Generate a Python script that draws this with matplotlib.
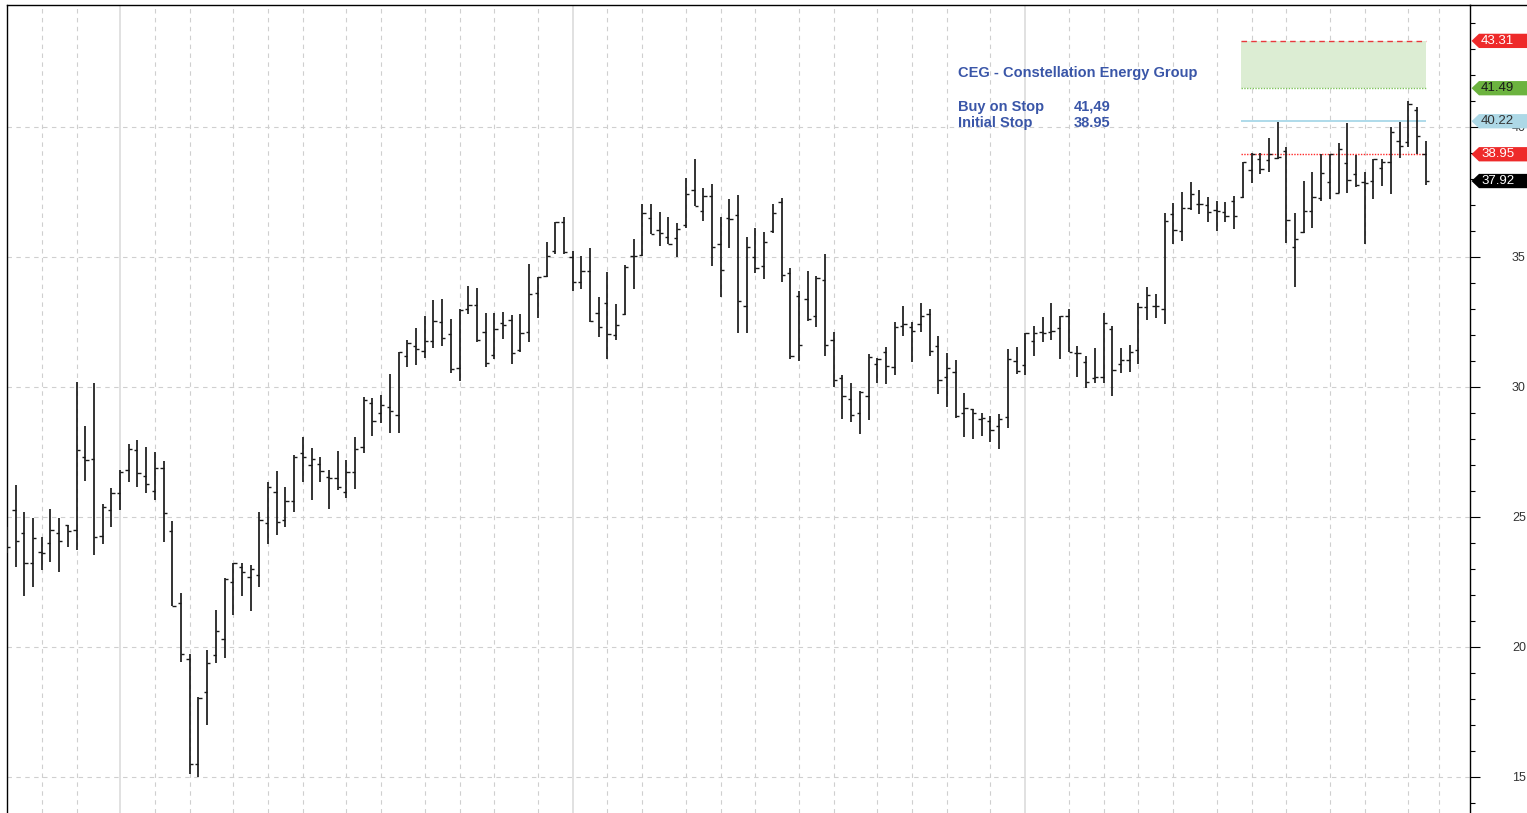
"""
Недельный OHLC-график CEG с зоной входа (buy stop / initial stop) справа.
"""
import numpy as np
import matplotlib
matplotlib.use("Agg")
import matplotlib.pyplot as plt
import matplotlib.transforms as mtransforms
from matplotlib.patches import Polygon, Rectangle
from matplotlib.lines import Line2D

plt.rcParams["font.family"] = ["Liberation Sans", "DejaVu Sans"]

# --- данные (недельные бары) ---
OPEN = [24.20, 25.27, 24.37, 23.24, 23.67, 23.99, 24.37, 24.69, 24.50, 27.32,
        27.22, 24.28, 25.27, 25.91, 26.81, 27.58, 26.58, 26.01, 26.87, 24.46,
        21.68, 19.53, 15.49, 18.28, 19.69, 20.31, 22.51, 23.09, 22.71, 22.77,
        24.76, 25.97, 24.88, 25.63, 27.45, 27.00, 27.03, 26.53, 26.49, 25.97,
        26.74, 27.71, 29.40, 29.01, 29.22, 28.92, 31.21, 31.59, 31.40, 31.77,
        32.51, 32.04, 30.72, 32.99, 33.15, 32.13, 31.23, 32.47, 32.58, 31.42,
        32.13, 33.63, 34.27, 35.21, 36.33, 34.99, 34.05, 34.46, 32.83, 33.22,
        32.00, 32.81, 35.04, 35.08, 36.49, 36.04, 35.76, 35.72, 36.23, 37.58,
        36.77, 37.36, 35.49, 36.49, 36.62, 33.12, 35.01, 34.65, 36.00, 37.10,
        34.37, 33.50, 33.38, 32.71, 34.12, 31.81, 30.33, 29.53, 29.01, 29.65,
        30.87, 31.36, 30.78, 32.35, 32.29, 32.42, 32.81, 31.59, 30.40, 30.56,
        29.01, 29.14, 28.77, 28.71, 28.50, 28.86, 31.00, 30.85, 31.77, 32.13,
        32.13, 32.26, 32.74, 31.32, 30.95, 30.33, 30.37, 32.22, 30.88, 31.04,
        31.42, 33.09, 33.12, 32.99, 36.64, 36.01, 36.87, 37.03, 37.00, 36.81,
        36.72, 37.15, 37.29, 38.35, 38.77, 38.71, 38.79, 39.08, 35.40, 35.95,
        36.77, 37.26, 37.90, 37.47, 38.60, 38.19, 37.90, 37.92, 38.44, 38.64,
        39.47, 39.44, 40.65, 38.96]
HIGH = [24.60, 26.23, 25.21, 24.95, 24.24, 25.29, 24.95, 24.69, 30.18, 28.50,
        30.14, 25.50, 26.10, 26.81, 27.81, 27.96, 27.71, 27.49, 27.15, 24.86,
        22.09, 19.73, 18.09, 19.88, 21.42, 22.64, 23.22, 23.22, 23.15, 25.21,
        26.33, 26.78, 26.17, 27.38, 28.06, 27.67, 27.32, 26.81, 27.54, 27.19,
        28.06, 29.63, 29.59, 29.69, 30.49, 31.36, 31.81, 32.26, 32.71, 33.35,
        33.38, 32.60, 32.99, 33.90, 33.82, 32.83, 32.83, 32.87, 32.77, 32.79,
        34.73, 34.22, 35.56, 36.33, 36.55, 35.24, 35.04, 35.33, 33.47, 34.44,
        33.18, 34.69, 35.69, 37.03, 37.03, 36.74, 36.55, 36.29, 38.03, 38.77,
        37.67, 37.79, 36.55, 37.23, 37.38, 35.78, 36.10, 35.97, 37.03, 37.28,
        34.56, 33.69, 34.47, 34.28, 35.12, 32.13, 30.46, 30.14, 29.86, 31.27,
        31.10, 31.53, 32.51, 33.12, 32.51, 33.22, 32.99, 31.96, 31.32, 31.04,
        29.76, 29.15, 28.99, 28.88, 28.95, 31.45, 31.55, 32.06, 32.35, 32.68,
        33.22, 32.74, 32.99, 31.59, 31.21, 31.49, 32.86, 32.35, 31.49, 31.62,
        33.22, 33.86, 33.56, 36.68, 37.06, 37.49, 37.87, 37.58, 37.32, 37.15,
        37.10, 37.36, 38.67, 38.99, 39.01, 39.59, 40.18, 39.24, 36.68, 37.92,
        38.26, 38.96, 38.96, 39.37, 40.14, 38.92, 38.26, 38.77, 38.76, 40.01,
        40.18, 41.00, 40.78, 39.47]
LOW = [23.60, 23.06, 21.97, 22.32, 22.96, 23.26, 22.87, 23.83, 23.73, 26.38,
       23.54, 23.96, 24.63, 25.27, 26.36, 26.17, 25.91, 25.65, 24.05, 21.59,
       19.41, 15.10, 15.01, 17.00, 19.37, 19.56, 21.23, 21.97, 21.40, 22.32,
       23.96, 24.31, 24.60, 25.21, 26.36, 25.65, 26.36, 25.31, 26.04, 25.74,
       26.08, 27.47, 28.12, 28.60, 28.22, 28.24, 30.76, 30.85, 31.10, 31.49,
       31.58, 30.55, 30.24, 32.79, 31.74, 30.76, 31.06, 31.85, 30.88, 31.36,
       31.74, 32.67, 34.21, 35.10, 35.10, 33.69, 33.76, 32.49, 31.94, 31.06,
       31.81, 32.77, 33.76, 35.04, 35.88, 35.42, 35.49, 35.01, 36.10, 36.97,
       36.40, 34.65, 33.47, 35.36, 32.06, 32.09, 34.37, 34.14, 35.91, 34.05,
       31.06, 31.01, 32.55, 32.32, 31.19, 30.01, 28.76, 28.64, 28.19, 28.73,
       30.17, 30.12, 30.46, 31.97, 30.95, 32.10, 31.19, 29.72, 29.24, 28.82,
       28.09, 28.00, 28.13, 27.90, 27.60, 28.44, 30.49, 30.46, 31.21, 31.74,
       31.81, 31.06, 31.36, 30.37, 29.95, 30.14, 30.14, 29.67, 30.55, 30.59,
       30.88, 32.58, 32.67, 32.41, 35.49, 35.62, 36.81, 36.64, 36.36, 36.00,
       36.36, 36.06, 37.26, 37.83, 38.19, 38.28, 38.77, 35.53, 33.83, 35.91,
       36.13, 37.15, 37.22, 37.47, 37.47, 37.68, 35.49, 37.22, 37.74, 37.42,
       38.82, 39.24, 38.96, 37.77]
CLOSE = [23.86, 24.08, 23.22, 24.21, 23.60, 24.50, 24.08, 24.46, 27.58, 27.19,
         24.24, 25.37, 25.94, 26.74, 27.60, 26.68, 26.27, 26.87, 25.14, 21.59,
         19.73, 15.49, 18.05, 19.40, 20.62, 22.60, 23.22, 22.90, 22.99, 24.88,
         26.17, 24.79, 25.63, 27.29, 27.32, 27.22, 26.78, 26.49, 26.17, 26.74,
         27.62, 29.50, 28.71, 29.31, 29.09, 31.36, 31.68, 31.46, 31.77, 32.55,
         31.87, 30.69, 32.96, 33.15, 31.81, 30.91, 32.22, 32.38, 31.29, 32.09,
         33.56, 34.21, 35.05, 36.33, 35.18, 34.05, 34.46, 32.55, 32.32, 32.04,
         32.38, 34.60, 35.04, 36.68, 35.88, 35.94, 35.50, 36.06, 37.41, 36.97,
         37.36, 35.37, 34.50, 36.45, 33.32, 35.37, 34.59, 35.59, 36.68, 34.31,
         31.21, 31.62, 32.60, 34.18, 31.62, 30.27, 29.65, 28.92, 29.82, 31.14,
         31.08, 30.82, 32.29, 32.42, 32.17, 32.74, 31.38, 30.27, 30.74, 28.90,
         29.18, 29.01, 28.79, 28.35, 28.76, 31.08, 30.63, 32.06, 32.06, 32.09,
         32.17, 32.71, 31.36, 31.29, 30.18, 30.37, 32.45, 30.65, 31.04, 31.33,
         33.09, 33.54, 33.12, 36.40, 36.04, 36.87, 37.41, 37.03, 36.74, 36.78,
         36.58, 36.58, 38.64, 38.96, 38.37, 38.96, 38.83, 36.42, 35.68, 36.77,
         37.32, 38.24, 38.96, 39.14, 37.96, 37.77, 37.83, 38.76, 38.64, 39.82,
         39.27, 40.87, 39.65, 37.92]

# вертикальная сетка: начала месяцев (пунктир) и годов (сплошная), в номерах баров
MONTH_LINES = [4, 8, 17, 21, 26, 30, 34, 39, 43, 48, 52, 56, 61,
               69, 73, 78, 82, 86, 91, 95, 100, 104, 108, 113,
               122, 126, 130, 134, 139, 143, 147, 152, 156, 161, 164.5]
YEAR_LINES = [13, 65, 117]
PRICE_TICKS = [15, 20, 25, 30, 35, 40]

TITLE = "CEG - Constellation Energy Group"
TARGET = 43.31     # верх зоны
ENTRY = 41.49      # buy on stop
RESIST = 40.22
STOP = 38.95       # initial stop
LAST = 37.92
ZONE_X = (141.8, 163.0)

# метки цен справа: значение, фон, цвет текста
TAGS = [(TARGET, "#ee2a2a", "white"),
        (ENTRY, "#6cb33f", "#1a1a1a"),
        (RESIST, "#add8e6", "#333333"),
        (STOP, "#ee2a2a", "white"),
        (LAST, "#000000", "white")]

W, H = 1527, 813
fig = plt.figure(figsize=(W / 100, H / 100), dpi=100)
ax = fig.add_axes([6.5 / W, 0, (1470 - 6.5) / W, 1 - 5 / H])
ax.set_xlim(-0.05, 168.1)
ax.set_ylim(13.615, 44.69)

# сетка
for p in PRICE_TICKS:
    ax.axhline(p, color="#cfcfcf", lw=0.8, ls=(0, (4, 4)), zorder=0)
for m in MONTH_LINES:
    ax.axvline(m, color="#cfcfcf", lw=0.8, ls=(0, (4, 4)), zorder=0)
for y in YEAR_LINES:
    ax.axvline(y, color="#dcdcdc", lw=1.2, zorder=0)

# зона входа
ax.add_patch(Rectangle((ZONE_X[0], ENTRY), ZONE_X[1] - ZONE_X[0], TARGET - ENTRY,
                       facecolor="#dcedd3", edgecolor="none", zorder=1))
ax.hlines(TARGET, *ZONE_X, color="#e8383d", lw=1.0, ls=(0, (4, 3)), zorder=2)
ax.hlines(ENTRY, *ZONE_X, color="#7cc35a", lw=1.0, ls=(0, (1, 1)), zorder=2)
ax.hlines(RESIST, *ZONE_X, color="#a8d8e8", lw=1.3, zorder=2)
ax.hlines(STOP, *ZONE_X, color="#ff2a2a", lw=1.0, ls=(0, (1, 1)), zorder=2)

# OHLC бары
x = np.arange(len(CLOSE))
bar_c = "#1a1a1a"
ax.vlines(x, LOW, HIGH, color=bar_c, lw=1.25, zorder=3)
ax.hlines(OPEN, x - 0.38, x, color=bar_c, lw=1.0, zorder=3)
ax.hlines(CLOSE, x, x + 0.38, color=bar_c, lw=1.0, zorder=3)

# оси
ax.yaxis.tick_right()
ax.set_yticks(PRICE_TICKS)
ax.set_yticks(np.arange(14, 45), minor=True)
ax.tick_params(axis="y", which="major", length=7.2, width=0.8, pad=23,
               labelsize=9, labelcolor="#333333")
ax.tick_params(axis="y", which="minor", length=3.4, width=0.8)
ax.tick_params(axis="x", bottom=False, labelbottom=False)
ax.spines["bottom"].set_visible(False)
for s in ("left", "right", "top"):
    ax.spines[s].set_color("black")
    ax.spines[s].set_linewidth(1.0)
fig.add_artist(Line2D([1470 / W, 1], [1 - 5 / H] * 2, color="black", lw=1.0))

# подписи
txt_c = "#3a56a8"
fig.text(958 / W, 1 - 77 / H, TITLE, fontsize=10.5, weight="bold", color=txt_c, va="baseline")
fig.text(958 / W, 1 - 110.5 / H, "Buy on Stop", fontsize=10.5, weight="bold", color=txt_c, va="baseline")
fig.text(1074 / W, 1 - 110.5 / H, f"{ENTRY:.2f}".replace(".", ","), fontsize=10.5,
         weight="bold", color=txt_c, va="baseline")
fig.text(958 / W, 1 - 127 / H, "Initial Stop", fontsize=10.5, weight="bold", color=txt_c, va="baseline")
fig.text(1074 / W, 1 - 127 / H, f"{STOP:.2f}", fontsize=10.5, weight="bold", color=txt_c, va="baseline")

# ценовые метки-стрелки на правой шкале
trans = mtransforms.blended_transform_factory(fig.transFigure, ax.transData)
hh = 0.275
for val, face, tc in TAGS:
    poly = Polygon([[1471.5 / W, val], [1479 / W, val + hh], [1.01, val + hh],
                    [1.01, val - hh], [1479 / W, val - hh]],
                   closed=True, transform=trans, facecolor=face, edgecolor="none")
    fig.add_artist(poly)
    fig.text(1481 / W, val, f"{val:.2f}", transform=trans, fontsize=9.5,
             color=tc, va="center", ha="left", zorder=5)

fig.savefig("out.png", dpi=100)
